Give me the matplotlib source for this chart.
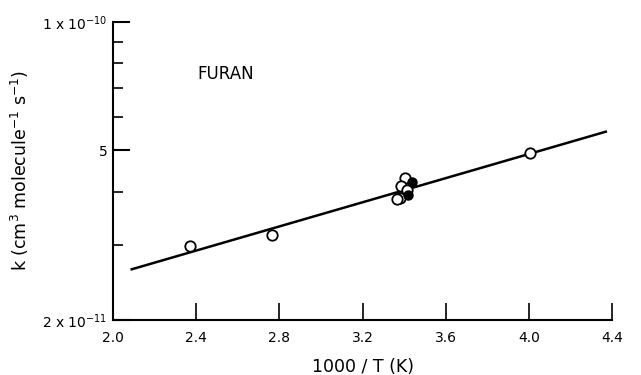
import matplotlib
matplotlib.use("Agg")
import matplotlib.pyplot as plt
from matplotlib.ticker import FixedLocator, NullFormatter, FixedFormatter

# Data
open_x = [2.37, 2.764, 4.005, 3.404, 3.383, 3.412, 3.380, 3.367]
open_y = [2.985e-11, 3.17e-11, 4.93e-11, 4.30e-11, 4.13e-11, 4.04e-11, 3.87e-11, 3.84e-11]
filled_x = [3.436, 3.420]
filled_y = [4.22e-11, 3.93e-11]
fit_x = [2.09, 4.37]
fit_y = [2.63e-11, 5.53e-11]

x_ticks = [2.0, 2.4, 2.8, 3.2, 3.6, 4.0, 4.4]
x_ticklabels = ["2.0", "2.4", "2.8", "3.2", "3.6", "4.0", "4.4"]
y_major = [2e-11, 5e-11, 1e-10]
y_major_labels = [r"2 x 10$^{-11}$", "5", r"1 x 10$^{-10}$"]
y_minor = [3e-11, 4e-11, 6e-11, 7e-11, 8e-11, 9e-11]

plt.rcParams['font.family'] = ['DejaVu Sans']
plt.rcParams['mathtext.fontset'] = 'dejavusans'

fig = plt.figure(figsize=(6.41, 3.75), dpi=100)
ax = fig.add_axes([0.1763, 0.1467, 0.9548 - 0.1763, 0.9413 - 0.1467])

ax.plot(fit_x, fit_y, color='black', lw=1.8, zorder=2)
ax.plot(open_x, open_y, 'o', ms=7.5, mfc='white', mec='black', mew=1.3, zorder=3)
ax.plot(filled_x, filled_y, 'o', ms=6.5, mfc='black', mec='black', zorder=4)

ax.set_yscale('log')
ax.set_xlim(2.0, 4.4)
ax.set_ylim(2e-11, 1e-10)

ax.xaxis.set_major_locator(FixedLocator(x_ticks))
ax.xaxis.set_major_formatter(FixedFormatter(x_ticklabels))
ax.xaxis.set_minor_locator(FixedLocator([]))
ax.yaxis.set_major_locator(FixedLocator(y_major))
ax.yaxis.set_major_formatter(FixedFormatter(y_major_labels))
ax.yaxis.set_minor_locator(FixedLocator(y_minor))
ax.yaxis.set_minor_formatter(NullFormatter())

for s in ['top', 'right']:
    ax.spines[s].set_visible(False)
for s in ['left', 'bottom']:
    ax.spines[s].set_linewidth(1.5)

ax.tick_params(axis='x', which='major', direction='in', length=12, width=1.2, labelsize=10, pad=8)
ax.tick_params(axis='y', which='major', direction='in', length=12, width=1.5, labelsize=10, pad=4)
ax.tick_params(axis='y', which='minor', direction='in', length=7, width=1.2)

ax.set_xlabel("1000 / T (K)", fontsize=12.5, labelpad=9)
ax.set_ylabel(r"k (cm$^3$ molecule$^{-1}$ s$^{-1}$)", fontsize=12.5, labelpad=8)

ax.text(0.17, 0.825, "FURAN", transform=ax.transAxes, fontsize=12, ha='left', va='center')

fig.savefig("out.png", dpi=100)
